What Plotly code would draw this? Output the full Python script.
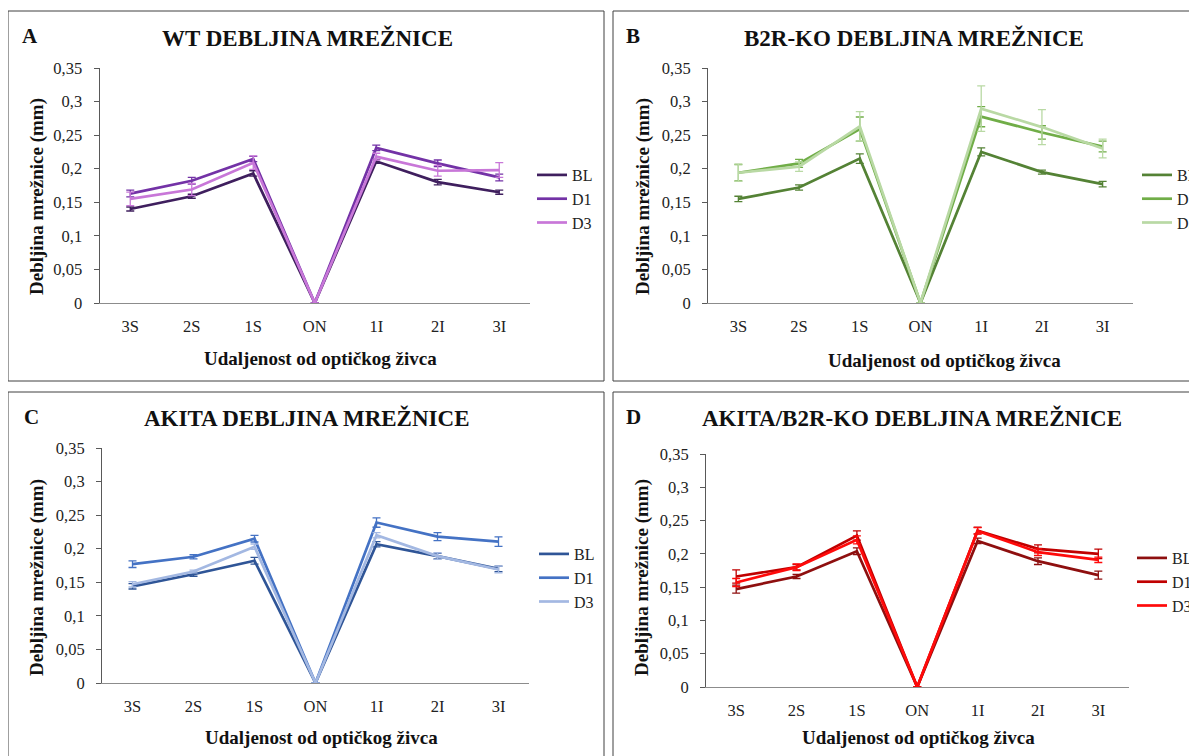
import plotly.graph_objs as go

# kategorije na x osi
positions = ['3S', '2S', '1S', 'ON', '1I', '2I', '3I']
series_names = ['BL', 'D1', 'D3']
ytick_vals = [0, 0.05, 0.1, 0.15, 0.2, 0.25, 0.3, 0.35]
ytick_text = ['0', '0,05', '0,1', '0,15', '0,2', '0,25', '0,3', '0,35']

# A - WT
wt_bl = [0.140, 0.159, 0.193, 0, 0.211, 0.180, 0.165]
wt_d1 = [0.163, 0.182, 0.2145, 0, 0.231, 0.208, 0.187]
wt_d3 = [0.155, 0.169, 0.209, 0, 0.218, 0.197, 0.198]
wt_bl_err = [0.003, 0.003, 0.004, 0, 0.003, 0.004, 0.003]
wt_d1_err = [0.005, 0.005, 0.004, 0, 0.004, 0.005, 0.005]
wt_d3_err = [0.010, 0.009, 0.010, 0, 0.005, 0.008, 0.011]

# B - B2R-KO
ko_bl = [0.155, 0.172, 0.215, 0, 0.225, 0.195, 0.177]
ko_d1 = [0.194, 0.208, 0.259, 0, 0.2775, 0.254, 0.233]
ko_d3 = [0.194, 0.203, 0.263, 0, 0.2895, 0.262, 0.230]
ko_bl_err = [0.004, 0.004, 0.007, 0, 0.006, 0.003, 0.004]
ko_d1_err = [0.012, 0.006, 0.018, 0, 0.015, 0.010, 0.008]
ko_d3_err = [0.013, 0.007, 0.022, 0, 0.034, 0.026, 0.014]

# C - AKITA
ak_bl = [0.144, 0.162, 0.182, 0, 0.2066, 0.189, 0.170]
ak_d1 = [0.177, 0.188, 0.215, 0, 0.239, 0.218, 0.2105]
ak_d3 = [0.147, 0.166, 0.203, 0, 0.220, 0.189, 0.169]
ak_bl_err = [0.004, 0.003, 0.005, 0, 0.004, 0.004, 0.004]
ak_d1_err = [0.005, 0.003, 0.005, 0, 0.007, 0.006, 0.007]
ak_d3_err = [0.004, 0.002, 0.004, 0, 0.004, 0.005, 0.005]

# D - AKITA/B2R-KO
akko_bl = [0.147, 0.166, 0.204, 0, 0.2195, 0.189, 0.168]
akko_d1 = [0.166, 0.180, 0.2275, 0, 0.235, 0.2075, 0.200]
akko_d3 = [0.157, 0.180, 0.221, 0, 0.2345, 0.2025, 0.191]
akko_bl_err = [0.006, 0.003, 0.005, 0, 0.004, 0.005, 0.006]
akko_d1_err = [0.010, 0.004, 0.007, 0, 0.005, 0.006, 0.007]
akko_d3_err = [0.006, 0.005, 0.006, 0, 0.005, 0.005, 0.004]

W, H = 1197, 756
OFF = 8  # margina body elementa u html stranici
FONT = 'Liberation Serif, Times New Roman, serif'


def px(x):
    return (x - OFF) / W


def py(y):
    return 1 - (y - OFF) / H


panels = [
    dict(label='A', title='WT DEBLJINA MREŽNICE',
         xd=(99.5, 530), yd=(303, 68), box=(8, 11, 604, 381), leg=(532, 158),
         lab_xy=(30, 36), tit_xy=(307, 38), xt_xy=(320, 358), yt_xy=(37, 197),
         data=[(wt_bl, wt_bl_err), (wt_d1, wt_d1_err), (wt_d3, wt_d3_err)],
         colors=['#3f1f5e', '#7332a6', '#c877d8']),
    dict(label='B', title='B2R-KO DEBLJINA MREŽNICE',
         xd=(708, 1133), yd=(303, 68), box=(613, 11, 1205, 381), leg=(1137, 158),
         lab_xy=(633, 36), tit_xy=(914, 38), xt_xy=(944, 360), yt_xy=(643, 197),
         data=[(ko_bl, ko_bl_err), (ko_d1, ko_d1_err), (ko_d3, ko_d3_err)],
         colors=['#548235', '#70ad47', '#b9d9a4']),
    dict(label='C', title='AKITA DEBLJINA MREŽNICE',
         xd=(102, 529), yd=(683, 448), box=(8, 392, 604, 765), leg=(534, 537),
         lab_xy=(31, 417), tit_xy=(306, 418), xt_xy=(321, 737), yt_xy=(37, 578),
         data=[(ak_bl, ak_bl_err), (ak_d1, ak_d1_err), (ak_d3, ak_d3_err)],
         colors=['#2f5597', '#4472c4', '#a3b8e2']),
    dict(label='D', title='AKITA/B2R-KO DEBLJINA MREŽNICE',
         xd=(706, 1128.5), yd=(687, 454), box=(613, 392, 1205, 765), leg=(1132, 541),
         lab_xy=(633, 417), tit_xy=(912, 418), xt_xy=(918, 737), yt_xy=(642, 578),
         data=[(akko_bl, akko_bl_err), (akko_d1, akko_d1_err), (akko_d3, akko_d3_err)],
         colors=['#8e0f0f', '#c00000', '#ff0a0a']),
]

fig = go.Figure()
layout = dict(width=W, height=H,
              margin=dict(l=0, r=0, t=0, b=0, pad=0, autoexpand=False),
              paper_bgcolor='white', plot_bgcolor='white',
              font=dict(family=FONT, color='#222222'),
              annotations=[], shapes=[])


def note(text, xy, size, angle=0):
    return dict(text=text, x=px(xy[0]), y=py(xy[1]), xref='paper', yref='paper',
                xanchor='center', yanchor='middle', showarrow=False, textangle=angle,
                font=dict(family=FONT, size=size, color='#111111'))


for i, p in enumerate(panels):
    n = '' if i == 0 else str(i + 1)
    leg = 'legend' if i == 0 else 'legend%d' % (i + 1)
    for name, (vals, errs), col in zip(series_names, p['data'], p['colors']):
        fig.add_trace(go.Scatter(
            x=positions, y=vals, name=name, mode='lines',
            line=dict(color=col, width=2.7),
            error_y=dict(type='data', array=errs, visible=True,
                         color=col, thickness=1.3, width=4),
            xaxis='x' + n, yaxis='y' + n, legend=leg))

    layout['xaxis' + n] = dict(
        domain=[px(p['xd'][0]), px(p['xd'][1])], anchor='y' + n,
        type='category', range=[-0.5, 6.5], showgrid=False, zeroline=False,
        showline=True, linecolor='#8c8c8c', linewidth=1, ticks='',
        ticklabelstandoff=8,
        tickfont=dict(family=FONT, size=16.5, color='#222222'), fixedrange=True)
    layout['yaxis' + n] = dict(
        domain=[py(p['yd'][0]), py(p['yd'][1])], anchor='x' + n,
        range=[0, 0.35], tickvals=ytick_vals, ticktext=ytick_text,
        showgrid=False, zeroline=False, showline=True, linecolor='#595959',
        linewidth=1, ticks='outside', ticklen=5, tickcolor='#595959',
        ticklabelstandoff=8,
        tickfont=dict(family=FONT, size=16.5, color='#222222'), fixedrange=True)
    layout[leg] = dict(
        x=px(p['leg'][0]), y=py(p['leg'][1]), xanchor='left', yanchor='top',
        bgcolor='rgba(0,0,0,0)', font=dict(family=FONT, size=16, color='#222222'),
        tracegroupgap=0, itemwidth=30)

    x0, y0, x1, y1 = p['box']
    layout['shapes'].append(dict(type='rect', xref='paper', yref='paper',
                                 x0=px(x0), x1=px(x1), y0=py(y1), y1=py(y0),
                                 line=dict(color='#404040', width=1)))

    layout['annotations'] += [
        note('<b>%s</b>' % p['label'], p['lab_xy'], 21),
        note('<b>%s</b>' % p['title'], p['tit_xy'], 23),
        note('<b>Udaljenost od optičkog živca</b>', p['xt_xy'], 19),
        note('<b>Debljina mrežnice (mm)</b>', p['yt_xy'], 19, -90),
    ]

fig.update_layout(**layout)
fig.write_html('out.html')
